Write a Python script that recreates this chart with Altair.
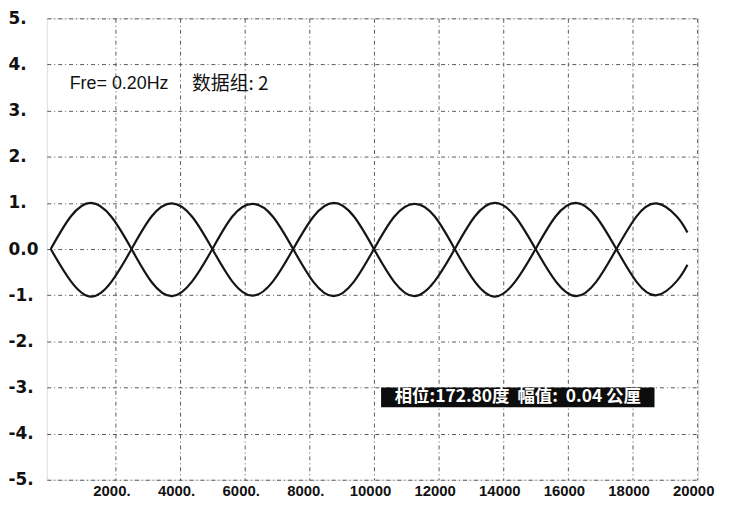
import altair as alt
import pandas as pd

# ---- data ----
time_ms = [0, 625, 1250, 1875, 2500, 3125, 3750, 4375, 5000, 5625, 6250, 6875,
           7500, 8125, 8750, 9375, 10000, 10625, 11250, 11875, 12500, 13125,
           13750, 14375, 15000, 15625, 16250, 16875, 17500, 18125, 18750,
           19375, 19700]
wave_1 = [0.0, 0.71, 1.00, 0.70, 0.0, -0.72, -1.02, -0.70, 0.0, 0.71, 0.98,
          0.70, 0.0, -0.71, -1.02, -0.71, 0.0, 0.70, 0.98, 0.71, 0.0, -0.71,
          -1.03, -0.70, 0.0, 0.71, 1.00, 0.70, 0.0, -0.71, -1.00, -0.69, -0.34]
wave_2 = [0.0, -0.70, -1.03, -0.71, 0.0, 0.71, 0.99, 0.70, 0.0, -0.71, -1.01,
          -0.70, 0.0, 0.70, 1.00, 0.71, 0.0, -0.71, -1.02, -0.70, 0.0, 0.71,
          1.00, 0.70, 0.0, -0.70, -1.02, -0.71, 0.0, 0.71, 0.99, 0.70, 0.36]
x_ticks = [2000, 4000, 6000, 8000, 10000, 12000, 14000, 16000, 18000, 20000]
y_ticks = [-5, -4, -3, -2, -1, 0, 1, 2, 3, 4, 5]

info_text = ["Fre= 0.20Hz", "数据组: 2"]
info_x = [585, 4369]
info_y = [3.58, 3.58]
status_text = "相位:172.80度\u00a0\u00a0幅值:\u00a0\u00a00.04\u00a0公厘"
status_box_x = [10220, 18680]
status_box_y = [-3.0, -3.43]

# ---- tables ----
rows = []
for t, a, b in zip(time_ms, wave_1, wave_2):
    rows.append({"t": t, "v": a, "s": "1"})
    rows.append({"t": t, "v": b, "s": "2"})
df = pd.DataFrame(rows)

x_scale = alt.Scale(domain=[-123, 20030], nice=False, zero=False)
y_scale = alt.Scale(domain=[-5, 5], nice=False)

grid_dash = [4, 3, 1, 3]

x_axis = alt.Axis(values=x_ticks, title=None, grid=True, ticks=False, domain=False,
                  labelExpr="datum.value < 10000 ? datum.value + '.' : '' + datum.value",
                  labelFont="Liberation Sans", labelFontWeight="bold", labelFontSize=15,
                  labelColor="#111", labelPadding=4, labelFlush=False,
                  labelOverlap=False, labelOffset=-4,
                  gridColor="#5a5a5a", gridDash=grid_dash, gridWidth=1)
y_axis = alt.Axis(values=y_ticks, title=None, grid=True, ticks=False, domain=False,
                  tickSize=0,
                  labelExpr="datum.value == 0 ? '0.0' : datum.value + '.'",
                  labelFont="DejaVu Sans", labelFontWeight="bold", labelFontSize=17,
                  labelColor="#111", labelAlign="left", labelPadding=39,
                  labelBaseline="middle", labelFlush=False, labelOverlap=False,
                  gridColor="#5a5a5a", gridDash=grid_dash, gridWidth=1)

lines = alt.Chart(df).mark_line(strokeWidth=2.2, interpolate="natural").encode(
    x=alt.X("t:Q", scale=x_scale, axis=x_axis),
    y=alt.Y("v:Q", scale=y_scale, axis=y_axis),
    detail="s:N",
    color=alt.value("#151515"),
)

info_df = pd.DataFrame({"x": info_x, "y": info_y, "text": info_text})
info1 = alt.Chart(info_df.iloc[[0]]).mark_text(
    align="left", baseline="middle", font="Liberation Sans", fontSize=18,
    color="#111").encode(x=alt.X("x:Q", scale=x_scale), y=alt.Y("y:Q", scale=y_scale), text="text:N")
info2 = alt.Chart(info_df.iloc[[1]]).mark_text(
    align="left", baseline="middle", font="Noto Sans CJK SC", fontSize=19,
    color="#111").encode(x=alt.X("x:Q", scale=x_scale), y=alt.Y("y:Q", scale=y_scale), text="text:N")

box_df = pd.DataFrame({"x": [status_box_x[0]], "x2": [status_box_x[1]],
                       "y": [status_box_y[0]], "y2": [status_box_y[1]],
                       "xm": [(status_box_x[0] + status_box_x[1]) / 2],
                       "ym": [(status_box_y[0] + status_box_y[1]) / 2],
                       "text": [status_text]})
box = alt.Chart(box_df).mark_rect(color="#0d0d0d").encode(
    x=alt.X("x:Q", scale=x_scale), x2="x2:Q",
    y=alt.Y("y:Q", scale=y_scale), y2="y2:Q")
box_text = alt.Chart(box_df).mark_text(
    align="center", baseline="middle", font="Noto Sans CJK SC", fontWeight="bold",
    fontSize=17.5, color="white").encode(
    x=alt.X("xm:Q", scale=x_scale), y=alt.Y("ym:Q", scale=y_scale), text="text:N")

chart = alt.layer(lines, info1, info2, box, box_text).properties(
    width=655, height=464,
    autosize=alt.AutoSizeParams(type="none"),
    padding={"left": 39, "top": 9, "right": 25, "bottom": 30},
).configure_view(stroke="#2a2a2a", strokeWidth=3).configure(background="white")

chart.save("out.html", embed_options={"renderer": "svg", "actions": False})
